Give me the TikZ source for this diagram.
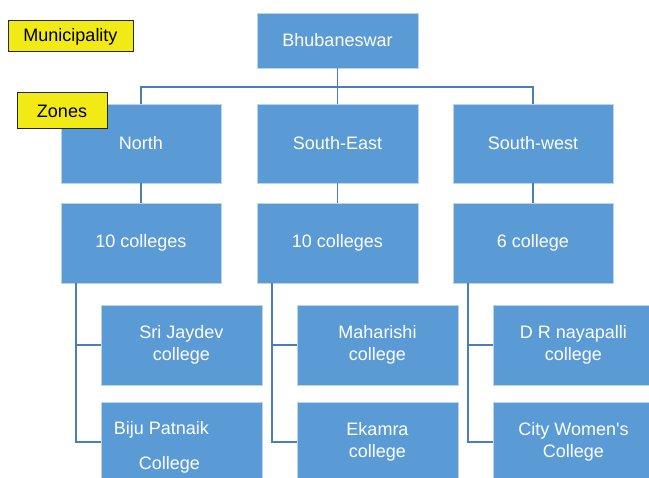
\documentclass[tikz,border=0pt]{standalone}
\usepackage{fontspec}
\setmainfont{Liberation Sans}[Ligatures=TeXOff]
\definecolor{boxblue}{HTML}{5B9BD5}
\definecolor{edgeblue}{HTML}{BDD3EC}
\definecolor{linkblue}{HTML}{4A7EBB}
\definecolor{tagyellow}{HTML}{F2EA14}
\begin{document}
\begin{tikzpicture}[x=1pt,y=-1pt,
  bluebox/.style={rectangle, fill=boxblue, draw=edgeblue, line width=0.8pt, text=white,
    font=\fontsize{18}{22}\selectfont, align=center, inner sep=0pt,
    minimum width=160pt, minimum height=80pt},
  tagbox/.style={rectangle, fill=tagyellow, draw=black!85, line width=1pt, text=black,
    font=\fontsize{18}{21}\selectfont, inner sep=0pt},
  link/.style={draw=linkblue, line width=1.2pt}]
\useasboundingbox (0,0) rectangle (649,478);
\clip (0,0) rectangle (649,478);
\fill[white] (0,0) rectangle (649,478);
% top
\node[bluebox, minimum height=55pt, minimum width=161pt] (bbsr) at (337.5,40.5) {Bhubaneswar};
% zones
\node[bluebox, minimum height=79pt] (north) at (141,143.5) {North};
\node[bluebox, minimum height=79pt, minimum width=161pt] (se) at (337.5,143.5) {South-East};
\node[bluebox, minimum height=79pt] (sw) at (533,143.5) {South-west};
% counts
\node[bluebox] (n10) at (141,243) {10 colleges};
\node[bluebox, minimum width=161pt] (se10) at (337.5,243) {10 colleges};
\node[bluebox] (sw6) at (533,243) {6 college};
% colleges
\node[bluebox, minimum width=161pt] (sj) at (181.5,345) {Sri Jaydev\\college};
\node[bluebox, minimum width=161pt] (bp) at (181.5,442) {};
\node[text=white, font=\fontsize{18}{21}\selectfont, inner sep=0pt] (bp1) at (161.5,430) {Biju Patnaik};
\node[text=white, font=\fontsize{18}{21}\selectfont, inner sep=0pt] (bp2) at (169.5,465) {College};
\node[bluebox, minimum width=161pt] (mh) at (377.5,345) {Maharishi\\college};
\node[bluebox, minimum width=161pt] (ek) at (377.5,442) {Ekamra\\college};
\node[bluebox, minimum width=161pt] (dr) at (573.5,345) {D R nayapalli\\college};
\node[bluebox, minimum width=161pt] (cw) at (573.5,442) {City Women's\\College};
% connectors
\coordinate (hub) at (337.5,87);
\draw[link] (bbsr.south) -- (se.north);
\draw[link] (north.north) -- (north.north |- hub) -- (sw.north |- hub) -- (sw.north);
\draw[link] (north.south) -- (n10.north);
\draw[link] (se.south) -- (se10.north);
\draw[link] (sw.south) -- (sw6.north);
\coordinate (na) at (76,283);
\coordinate (sa) at (272,283);
\coordinate (wa) at (468,283);
\draw[link] (na) |- (bp.west);
\draw[link] (na |- sj.west) -- (sj.west);
\draw[link] (sa) |- (ek.west);
\draw[link] (sa |- mh.west) -- (mh.west);
\draw[link] (wa) |- (cw.west);
\draw[link] (wa |- dr.west) -- (dr.west);
% tags
\node[tagbox, minimum width=125pt, minimum height=31pt] (muni) at (70.5,36.5) {Municipality};
\node[tagbox, minimum width=90pt, minimum height=36pt] (zones) at (62,111) {Zones};
\end{tikzpicture}
\end{document}
